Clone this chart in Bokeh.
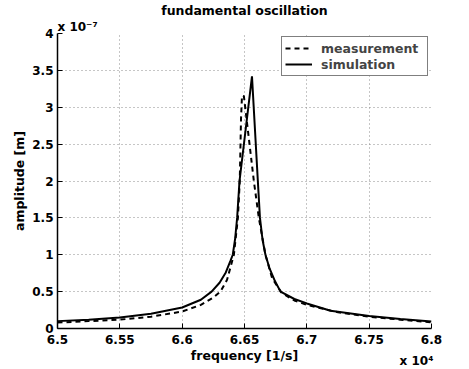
from bokeh.plotting import figure
from bokeh.models import Legend, LegendItem, FixedTicker, LinearAxis, Title
from bokeh.embed import file_html
from bokeh.resources import INLINE

# frequency in units of 1e4 [1/s], amplitude in units of 1e-7 [m]
freq_sim = [6.500, 6.525, 6.550, 6.575, 6.600, 6.615, 6.6236, 6.630, 6.635, 6.6388,
            6.6406, 6.6425, 6.6441, 6.6460, 6.6560, 6.6607, 6.6624, 6.6645, 6.6668,
            6.6700, 6.6745, 6.6789, 6.6900, 6.7000, 6.7190, 6.7500, 6.7750, 6.8000]
amp_sim = [0.10, 0.12, 0.15, 0.20, 0.285, 0.39, 0.50, 0.62, 0.76, 0.92,
           1.00, 1.22, 1.50, 2.00, 3.42, 2.00, 1.50, 1.20, 1.00,
           0.82, 0.64, 0.50, 0.40, 0.34, 0.24, 0.17, 0.13, 0.095]

freq_meas = [6.500, 6.525, 6.550, 6.575, 6.600, 6.615, 6.6250, 6.6307, 6.6360, 6.6415,
             6.6447, 6.6462, 6.6472, 6.6480, 6.6495, 6.6575, 6.6615, 6.6668, 6.6722,
             6.6800, 6.6900, 6.7000, 6.7250, 6.7500, 6.7750, 6.8000]
amp_meas = [0.08, 0.10, 0.12, 0.16, 0.23, 0.32, 0.42, 0.50, 0.66, 1.00,
            1.50, 2.00, 2.84, 3.16, 3.15, 2.00, 1.50, 1.00, 0.68,
            0.48, 0.38, 0.32, 0.22, 0.16, 0.12, 0.085]

x_ticks = [6.5, 6.55, 6.6, 6.65, 6.7, 6.75, 6.8]
x_tick_labels = ["6.5", "6.55", "6.6", "6.65", "6.7", "6.75", "6.8"]
y_ticks = [0, 0.5, 1, 1.5, 2, 2.5, 3, 3.5, 4]
y_tick_labels = ["0", "0.5", "1", "1.5", "2", "2.5", "3", "3.5", "4"]

title_text = "fundamental oscillation"
x_label = "frequency [1/s]"
y_label = "amplitude [m]"
x_scale_text = "x 10\u2074"
y_scale_text = "x 10\u207b\u2077"
x_scale_pos = 6.788

FONT = "DejaVu Sans"

p = figure(frame_width=374, frame_height=295,
           min_border_left=57, min_border_right=37, min_border_top=31, min_border_bottom=42,
           x_range=(6.5, 6.8), y_range=(0, 4),
           output_backend="svg", toolbar_location=None)
p.outline_line_color = None
p.background_fill_color = "white"
p.border_fill_color = "white"

r_meas = p.line(freq_meas, amp_meas, line_color="black", line_width=2, line_dash="5 4")
r_sim = p.line(freq_sim, amp_sim, line_color="black", line_width=2)

def style_axis(ax):
    ax.axis_line_color = "black"
    ax.axis_line_width = 1.5
    ax.major_tick_in = 5
    ax.major_tick_out = 0
    ax.major_tick_line_color = "black"
    ax.minor_tick_line_color = None
    ax.major_label_text_font = FONT
    ax.major_label_text_font_style = "bold"
    ax.major_label_text_font_size = "12px"
    ax.major_label_text_color = "black"
    ax.axis_label_text_font = FONT
    ax.axis_label_text_font_style = "bold"
    ax.axis_label_text_font_size = "12.5px"
    ax.axis_label_text_color = "black"

for ax, ticks, labels in ((p.xaxis[0], x_ticks, x_tick_labels), (p.yaxis[0], y_ticks, y_tick_labels)):
    ax.ticker = FixedTicker(ticks=ticks)
    ax.major_label_overrides = dict(zip(ticks, labels))
    style_axis(ax)
p.xaxis[0].major_label_standoff = 6
p.xaxis[0].axis_label = x_label
p.xaxis[0].axis_label_standoff = 1
p.yaxis[0].major_label_standoff = 4
p.yaxis[0].axis_label = y_label
p.yaxis[0].axis_label_standoff = 2

# exponent annotation below the x axis
xs = LinearAxis(ticker=FixedTicker(ticks=[x_scale_pos]),
                major_label_overrides={x_scale_pos: x_scale_text})
style_axis(xs)
xs.axis_line_color = None
xs.major_tick_line_color = None
xs.major_tick_in = 0
xs.major_label_standoff = -12
p.add_layout(xs, "below")

for g in (p.xgrid[0], p.ygrid[0]):
    g.grid_line_color = "#8c8c8c"
    g.grid_line_dash = "1 3"
    g.grid_line_width = 1

legend = Legend(items=[LegendItem(label="measurement", renderers=[r_meas]),
                       LegendItem(label="simulation", renderers=[r_sim])],
                location="top_right", margin=3)
legend.border_line_color = "black"
legend.border_line_width = 1.5
legend.background_fill_alpha = 1
legend.label_text_font = FONT
legend.label_text_font_style = "bold"
legend.label_text_font_size = "12.5px"
legend.glyph_width = 27
legend.glyph_height = 16
legend.label_height = 16
legend.label_width = 103
legend.label_standoff = 9
legend.padding = 3
legend.spacing = 0
p.add_layout(legend)

t1 = Title(text=y_scale_text, align="left", text_font=FONT, text_font_style="bold",
           text_font_size="12px", text_color="black", standoff=0)
p.add_layout(t1, "above")
t2 = Title(text=title_text, align="center", text_font=FONT, text_font_style="bold",
           text_font_size="12.5px", text_color="black", standoff=0)
p.add_layout(t2, "above")

open("out.html", "w").write(file_html(p, INLINE))
